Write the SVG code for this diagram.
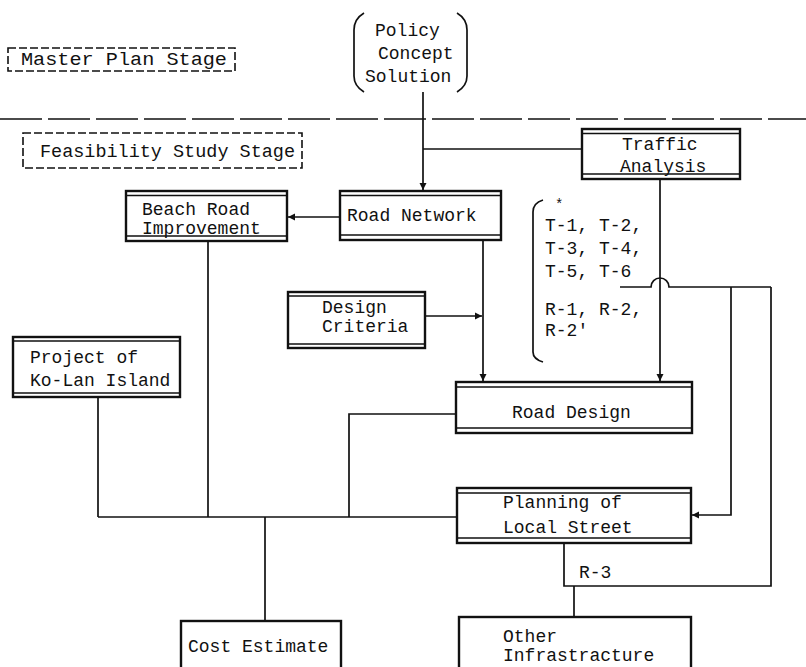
<svg xmlns="http://www.w3.org/2000/svg" width="806" height="667" viewBox="0 0 806 667">
<style>
.t{font-family:"Liberation Mono","DejaVu Sans Mono",monospace;font-size:18px;fill:#111}
.box{fill:#fff;stroke:#111;stroke-width:2.4}
.in{fill:none;stroke:#111;stroke-width:1.3}
.dash{fill:none;stroke:#111;stroke-width:1.6;stroke-dasharray:8 3}
.c{fill:none;stroke:#111;stroke-width:1.7}
</style>
<defs>
<marker id="ar" markerUnits="userSpaceOnUse" markerWidth="8" markerHeight="8" refX="7" refY="4" orient="auto">
<path d="M0,0.5 L7,4 L0,7.5 z" fill="#111"/>
</marker>
</defs>
<rect width="806" height="667" fill="#fff"/>

<g id="connectors">
<path class="c" d="M423,92 V190" marker-end="url(#ar)"/>
<path class="c" d="M423,149 H582"/>
<path class="c" d="M340,217 H288" marker-end="url(#ar)"/>
<path class="c" d="M208,241 V517"/>
<path class="c" d="M98,397 V517"/>
<path class="c" d="M98,517 H457"/>
<path class="c" d="M483,240 V381" marker-end="url(#ar)"/>
<path class="c" d="M425,316 H482" marker-end="url(#ar)"/>
<path class="c" d="M660,179 V381" marker-end="url(#ar)"/>
<path class="c" d="M620,287 H651 A9,9 0 0 1 669,287 H771"/>
<path class="c" d="M731,287 V515 H692" marker-end="url(#ar)"/>
<path class="c" d="M771,287 V586 H564 V543"/>
<path class="c" d="M574,586 V617"/>
<path class="c" d="M456,414 H349 V517"/>
<path class="c" d="M265,517 V621"/>
</g>

<path class="c" d="M0,119 H806" stroke-width="2" stroke-dasharray="42 6"/>

<g id="policy">
<path class="c" d="M364,13 Q354,19 354,30 V76 Q354,86 364,92"/>
<path class="c" d="M457,13 Q467,19 467,30 V76 Q467,86 457,92"/>
<text class="t" x="375" y="36">Policy</text>
<text class="t" x="378" y="59">Concept</text>
<text class="t" x="365" y="82">Solution</text>
</g>

<g id="master-plan-stage">
<rect class="dash" x="8" y="48" width="227" height="23"/>
<text class="t" x="21" y="65" textLength="206" lengthAdjust="spacingAndGlyphs">Master Plan Stage</text>
</g>

<g id="feasibility-study-stage">
<rect class="dash" x="23" y="133" width="279" height="35"/>
<text class="t" x="40" y="157" textLength="255" lengthAdjust="spacingAndGlyphs">Feasibility Study Stage</text>
</g>

<g id="traffic-analysis">
<rect class="box" x="582" y="129" width="158" height="50"/>
<path class="in" d="M582,133.5 H740 M582,174 H740"/>
<text class="t" x="622" y="150">Traffic</text>
<text class="t" x="620" y="172">Analysis</text>
</g>

<g id="road-network">
<rect class="box" x="340" y="191" width="161" height="49"/>
<path class="in" d="M340,195.5 H501 M340,235 H501"/>
<text class="t" x="347" y="221">Road Network</text>
</g>

<g id="beach-road-improvement">
<rect class="box" x="126" y="191" width="161" height="50"/>
<path class="in" d="M126,195.5 H287 M126,236 H287"/>
<text class="t" x="142" y="215">Beach Road</text>
<text class="t" x="142" y="234">Improvement</text>
</g>

<g id="t-list">
<path class="c" d="M543,200 Q533,203 533,212 V352 Q533,359 543,362"/>
<text class="t" x="555" y="209" style="font-size:14px">*</text>
<text class="t" x="545" y="231">T-1, T-2,</text>
<text class="t" x="545" y="254">T-3, T-4,</text>
<text class="t" x="545" y="277">T-5, T-6</text>
<text class="t" x="545" y="315">R-1, R-2,</text>
<text class="t" x="545" y="336">R-2'</text>
</g>

<g id="design-criteria">
<rect class="box" x="288" y="292" width="137" height="56"/>
<path class="in" d="M288,296 H425 M288,344 H425"/>
<text class="t" x="322" y="313">Design</text>
<text class="t" x="322" y="332">Criteria</text>
</g>

<g id="project-ko-lan">
<rect class="box" x="13" y="337" width="167" height="60"/>
<path class="in" d="M13,341 H180 M13,393 H180"/>
<text class="t" x="30" y="363">Project of</text>
<text class="t" x="30" y="386">Ko-Lan Island</text>
</g>

<g id="road-design">
<rect class="box" x="456" y="382" width="236" height="51"/>
<path class="in" d="M456,387 H692 M456,428 H692"/>
<text class="t" x="512" y="418">Road Design</text>
</g>

<g id="planning-local-street">
<rect class="box" x="457" y="488" width="234" height="55"/>
<path class="in" d="M457,493 H691 M457,538 H691"/>
<text class="t" x="503" y="508">Planning of</text>
<text class="t" x="503" y="533">Local Street</text>
</g>

<g id="r-3-label">
<text class="t" x="579" y="578">R-3</text>
</g>

<g id="cost-estimate">
<rect class="box" x="181" y="621" width="160" height="60"/>
<text class="t" x="188" y="652">Cost Estimate</text>
</g>

<g id="other-infrastructure">
<rect class="box" x="459" y="617" width="232" height="64"/>
<text class="t" x="503" y="642">Other</text>
<text class="t" x="503" y="661">Infrastracture</text>
</g>
</svg>
